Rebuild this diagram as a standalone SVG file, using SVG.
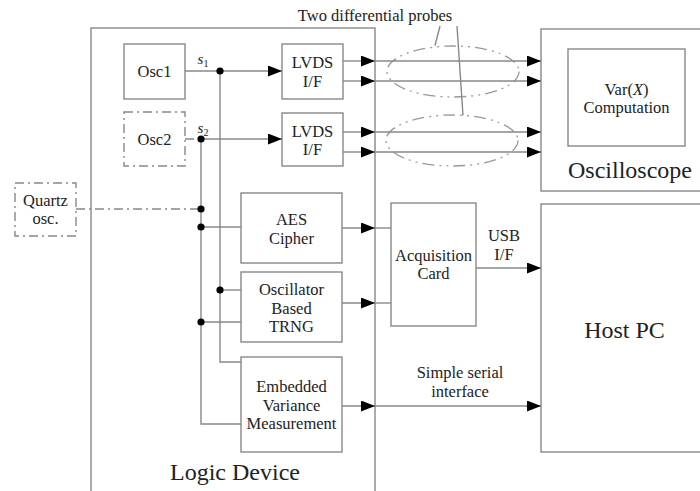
<svg xmlns="http://www.w3.org/2000/svg" width="700" height="491" viewBox="0 0 700 491">
<defs>
<marker id="arr" markerUnits="userSpaceOnUse" markerWidth="14" markerHeight="11" refX="14" refY="5.5" orient="auto">
<path d="M0,0 L14,5.5 L0,11 z" fill="#000"/>
</marker>
<style>
.box{fill:#fff;stroke:#888;stroke-width:1.4}
.dd{fill:#fff;stroke:#888;stroke-width:1.4;stroke-dasharray:9 4 2 4}
.ln{fill:none;stroke:#888;stroke-width:1.4}
.ar{fill:none;stroke:#888;stroke-width:1.4;marker-end:url(#arr)}
.dl{fill:none;stroke:#888;stroke-width:1.4;stroke-dasharray:9 4 2 4}
.el{fill:none;stroke:#999;stroke-width:1.3;stroke-dasharray:12 5 2 5 2 5}
.dot{fill:#000}
</style>
</defs>
<rect width="700" height="491" fill="#fff"/>

<g id="logic-device">
<rect class="box" x="91" y="28" width="284" height="480"/>
<text font-family="Liberation Serif" font-size="24" fill="#222" text-anchor="middle" x="235" y="480">Logic Device</text>
</g>

<g id="oscilloscope">
<rect class="box" x="541" y="29" width="170" height="162"/>
<text font-family="Liberation Serif" font-size="24" fill="#222" text-anchor="middle" x="630" y="178">Oscilloscope</text>
</g>
<g id="var-computation">
<rect class="box" x="568" y="49" width="117" height="97"/>
<text font-family="Liberation Serif" font-size="16.5" fill="#222" text-anchor="middle" x="626.5" y="95">Var(<tspan font-style="italic">X</tspan>)</text>
<text font-family="Liberation Serif" font-size="16.5" fill="#222" text-anchor="middle" x="626.5" y="113">Computation</text>
</g>

<g id="host-pc">
<rect class="box" x="541" y="204" width="170" height="248"/>
<text font-family="Liberation Serif" font-size="24" fill="#222" text-anchor="middle" x="624.5" y="338">Host PC</text>
</g>

<g id="osc1">
<rect class="box" x="124" y="44" width="61" height="55"/>
<text font-family="Liberation Serif" font-size="16.5" fill="#222" text-anchor="middle" x="154.5" y="77">Osc1</text>
</g>
<g id="osc2">
<rect class="dd" x="124" y="112" width="61" height="54"/>
<text font-family="Liberation Serif" font-size="16.5" fill="#222" text-anchor="middle" x="154.5" y="145">Osc2</text>
</g>
<g id="lvds1">
<rect class="box" x="282" y="44" width="61" height="55"/>
<text font-family="Liberation Serif" font-size="16.5" fill="#222" text-anchor="middle" x="312.5" y="68">LVDS</text>
<text font-family="Liberation Serif" font-size="16.5" fill="#222" text-anchor="middle" x="312.5" y="87">I/F</text>
</g>
<g id="lvds2">
<rect class="box" x="282" y="113" width="61" height="53"/>
<text font-family="Liberation Serif" font-size="16.5" fill="#222" text-anchor="middle" x="312.5" y="137">LVDS</text>
<text font-family="Liberation Serif" font-size="16.5" fill="#222" text-anchor="middle" x="312.5" y="155">I/F</text>
</g>
<g id="quartz">
<rect class="dd" x="15" y="183" width="61" height="53"/>
<text font-family="Liberation Serif" font-size="16.5" fill="#222" text-anchor="middle" x="45.5" y="206">Quartz</text>
<text font-family="Liberation Serif" font-size="16.5" fill="#222" text-anchor="middle" x="45.5" y="224">osc.</text>
</g>
<g id="aes">
<rect class="box" x="241" y="193" width="101" height="70"/>
<text font-family="Liberation Serif" font-size="16.5" fill="#222" text-anchor="middle" x="291.5" y="225">AES</text>
<text font-family="Liberation Serif" font-size="16.5" fill="#222" text-anchor="middle" x="291.5" y="244">Cipher</text>
</g>
<g id="trng">
<rect class="box" x="241" y="272" width="101" height="70"/>
<text font-family="Liberation Serif" font-size="16.5" fill="#222" text-anchor="middle" x="291.5" y="295">Oscillator</text>
<text font-family="Liberation Serif" font-size="16.5" fill="#222" text-anchor="middle" x="291.5" y="314">Based</text>
<text font-family="Liberation Serif" font-size="16.5" fill="#222" text-anchor="middle" x="291.5" y="332">TRNG</text>
</g>
<g id="evm">
<rect class="box" x="241" y="357" width="101" height="95"/>
<text font-family="Liberation Serif" font-size="16.5" fill="#222" text-anchor="middle" x="291.5" y="392">Embedded</text>
<text font-family="Liberation Serif" font-size="16.5" fill="#222" text-anchor="middle" x="291.5" y="411">Variance</text>
<text font-family="Liberation Serif" font-size="16.5" fill="#222" text-anchor="middle" x="291.5" y="429">Measurement</text>
</g>
<g id="acquisition-card">
<rect class="box" x="391" y="203" width="85" height="123"/>
<text font-family="Liberation Serif" font-size="16.5" fill="#222" text-anchor="middle" x="433.5" y="261">Acquisition</text>
<text font-family="Liberation Serif" font-size="16.5" fill="#222" text-anchor="middle" x="433.5" y="279">Card</text>
</g>

<g id="probes">
<ellipse class="el" cx="453" cy="71.5" rx="66" ry="25.5"/>
<ellipse class="el" cx="452" cy="140.5" rx="66" ry="25.5"/>
<polyline class="ln" points="440,26 435,45.5"/>
<polyline class="ln" points="457,26 463,115.5"/>
<text font-family="Liberation Serif" font-size="16.5" fill="#222" text-anchor="middle" x="375" y="21">Two differential probes</text>
</g>

<g id="connectors">
<line class="ar" x1="185" y1="71" x2="282" y2="71"/>
<line class="dl" x1="185" y1="139" x2="201" y2="139"/>
<line class="ar" x1="201" y1="139" x2="282" y2="139"/>
<polyline class="ln" points="220,71 220,362 241,362"/>
<line class="ln" x1="220" y1="290" x2="241" y2="290"/>
<polyline class="ln" points="201,139 201,424 241,424"/>
<line class="dl" x1="76" y1="209" x2="201" y2="209"/>
<line class="ln" x1="201" y1="227" x2="241" y2="227"/>
<line class="ln" x1="201" y1="322" x2="241" y2="322"/>
<circle class="dot" cx="220" cy="71" r="3.6"/>
<circle class="dot" cx="201" cy="139" r="3.6"/>
<circle class="dot" cx="201" cy="209" r="3.6"/>
<circle class="dot" cx="201" cy="227" r="3.6"/>
<circle class="dot" cx="220" cy="290" r="3.6"/>
<circle class="dot" cx="201" cy="322" r="3.6"/>
<text font-family="Liberation Serif" fill="#222" text-anchor="middle" x="203" y="64" font-size="15" font-style="italic">s<tspan font-size="10" font-style="normal" dy="3">1</tspan></text>
<text font-family="Liberation Serif" fill="#222" text-anchor="middle" x="203" y="133" font-size="15" font-style="italic">s<tspan font-size="10" font-style="normal" dy="3">2</tspan></text>

<line class="ar" x1="343" y1="61" x2="375" y2="61"/>
<line class="ar" x1="375" y1="61" x2="541" y2="61"/>
<line class="ar" x1="343" y1="81" x2="375" y2="81"/>
<line class="ar" x1="375" y1="81" x2="541" y2="81"/>
<line class="ar" x1="343" y1="132" x2="375" y2="132"/>
<line class="ar" x1="375" y1="132" x2="541" y2="132"/>
<line class="ar" x1="343" y1="152" x2="375" y2="152"/>
<line class="ar" x1="375" y1="152" x2="541" y2="152"/>

<line class="ar" x1="342" y1="228" x2="375" y2="228"/>
<line class="ln" x1="375" y1="228" x2="391" y2="228"/>
<line class="ar" x1="342" y1="303" x2="375" y2="303"/>
<line class="ln" x1="375" y1="303" x2="391" y2="303"/>

<line class="ar" x1="476" y1="268" x2="541" y2="268"/>
<text font-family="Liberation Serif" font-size="16.5" fill="#222" text-anchor="middle" x="504" y="241">USB</text>
<text font-family="Liberation Serif" font-size="16.5" fill="#222" text-anchor="middle" x="504" y="260">I/F</text>

<line class="ar" x1="342" y1="406" x2="375" y2="406"/>
<line class="ar" x1="375" y1="406" x2="541" y2="406"/>
<text font-family="Liberation Serif" font-size="16.5" fill="#222" text-anchor="middle" x="460" y="378">Simple serial</text>
<text font-family="Liberation Serif" font-size="16.5" fill="#222" text-anchor="middle" x="460" y="397">interface</text>
</g>
</svg>
